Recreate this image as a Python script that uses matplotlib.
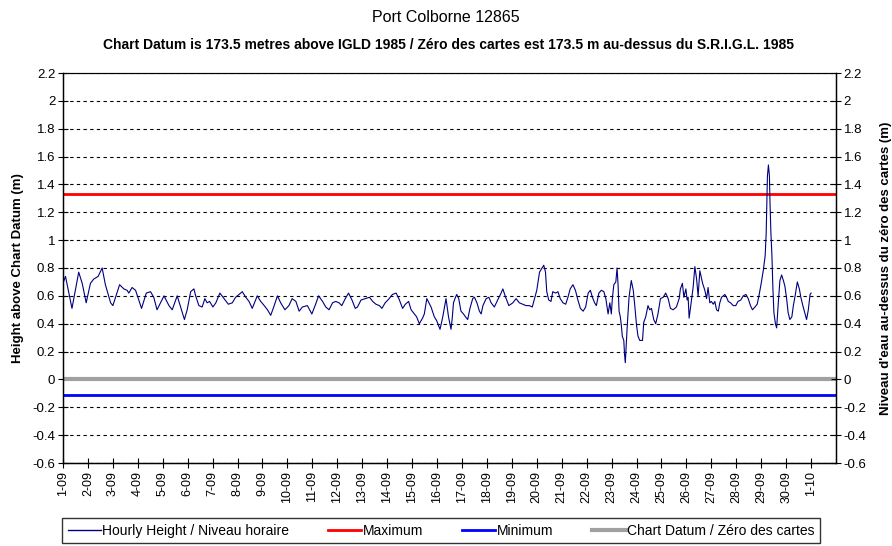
import matplotlib.pyplot as plt
from matplotlib.ticker import FuncFormatter, FixedLocator
from matplotlib.lines import Line2D

plt.rcParams['font.family'] = ['Liberation Sans', 'DejaVu Sans']
plt.rcParams['axes.unicode_minus'] = False

# day labels (1 Sept -> 1 Oct)
day_labels = ['%d-09' % d for d in range(1, 31)] + ['1-10']

# hourly water level, x = days since 1-09 00:00
hourly_days = [
    0.00, 0.10, 0.36, 0.63, 0.77, 0.93, 1.10, 1.23, 1.41, 1.57, 1.70, 1.91, 2.00,
    2.27, 2.44, 2.57, 2.64, 2.77, 2.91, 3.15, 3.34, 3.51, 3.64, 3.77, 4.05, 4.25,
    4.38, 4.58, 4.87, 4.98, 5.12, 5.25, 5.32, 5.45, 5.58, 5.69, 5.78, 5.88, 6.01,
    6.13, 6.29, 6.46, 6.63, 6.79, 6.92, 7.06, 7.19, 7.33, 7.46, 7.59, 7.79, 7.93,
    8.07, 8.20, 8.33, 8.47, 8.60, 8.73, 8.90, 9.06, 9.19, 9.34, 9.47, 9.60, 9.80,
    9.98, 10.11, 10.25, 10.41, 10.54, 10.67, 10.81, 10.94, 11.07, 11.18, 11.32,
    11.45, 11.59, 11.72, 11.81, 11.95, 12.12, 12.29, 12.42, 12.55, 12.69, 12.79,
    12.92, 13.08, 13.21, 13.36, 13.47, 13.62, 13.73, 13.86, 13.96, 14.09, 14.18,
    14.29, 14.42, 14.49, 14.59, 14.76, 14.89, 14.99, 15.12, 15.22, 15.36, 15.46,
    15.56, 15.61, 15.66, 15.74, 15.79, 15.87, 15.96, 16.06, 16.14, 16.23, 16.32,
    16.43, 16.50, 16.60, 16.70, 16.77, 16.84, 16.97, 17.08, 17.17, 17.30, 17.43,
    17.57, 17.64, 17.75, 17.88, 18.04, 18.17, 18.30, 18.44, 18.57, 18.70, 18.82,
    18.91, 19.00, 19.11, 19.21, 19.28, 19.35, 19.40, 19.48, 19.57, 19.64, 19.76,
    19.85, 19.94, 20.05, 20.16, 20.25, 20.34, 20.45, 20.55, 20.65, 20.75, 20.86,
    20.96, 21.06, 21.15, 21.23, 21.32, 21.39, 21.49, 21.59, 21.69, 21.77, 21.86,
    21.93, 21.99, 22.03, 22.09, 22.17, 22.22, 22.26, 22.30, 22.35, 22.39, 22.43,
    22.49, 22.52, 22.55, 22.59, 22.63, 22.70, 22.79, 22.87, 22.93, 23.00, 23.06,
    23.13, 23.24, 23.29, 23.37, 23.46, 23.53, 23.60, 23.69, 23.77, 23.86, 23.96,
    24.07, 24.17, 24.27, 24.36, 24.47, 24.60, 24.71, 24.76, 24.84, 24.90, 24.98,
    25.03, 25.07, 25.11, 25.21, 25.27, 25.34, 25.41, 25.47, 25.54, 25.65, 25.74,
    25.81, 25.87, 25.94, 26.00, 26.08, 26.14, 26.21, 26.28, 26.34, 26.41, 26.48,
    26.54, 26.61, 26.68, 26.77, 26.88, 26.98, 27.07, 27.18, 27.28, 27.39, 27.48,
    27.57, 27.65, 27.75, 27.84, 27.92, 28.01, 28.09, 28.16, 28.20, 28.25, 28.29,
    28.33, 28.35, 28.39, 28.43, 28.47, 28.51, 28.57, 28.62, 28.69, 28.75, 28.82,
    28.89, 28.95, 29.02, 29.08, 29.15, 29.23, 29.29, 29.36, 29.45, 29.53, 29.59,
    29.67, 29.76, 29.82, 29.89, 29.96, 30.00,
]
hourly_height = [
    0.69, 0.74, 0.51, 0.77, 0.69, 0.55, 0.69, 0.72, 0.74, 0.80, 0.68, 0.55, 0.53,
    0.68, 0.65, 0.64, 0.62, 0.66, 0.64, 0.51, 0.62, 0.63, 0.59, 0.50, 0.60, 0.53,
    0.50, 0.60, 0.43, 0.50, 0.63, 0.65, 0.60, 0.53, 0.52, 0.58, 0.55, 0.56, 0.52,
    0.55, 0.62, 0.58, 0.54, 0.55, 0.59, 0.61, 0.63, 0.59, 0.56, 0.51, 0.60, 0.56,
    0.53, 0.50, 0.46, 0.53, 0.60, 0.55, 0.50, 0.53, 0.58, 0.56, 0.49, 0.52, 0.53,
    0.47, 0.53, 0.60, 0.56, 0.52, 0.50, 0.55, 0.56, 0.55, 0.53, 0.58,
    0.62, 0.57, 0.51, 0.52, 0.57, 0.58, 0.59, 0.56, 0.54, 0.53, 0.51,
    0.55, 0.58, 0.61, 0.62, 0.58, 0.51, 0.54, 0.56, 0.50, 0.47, 0.45,
    0.40, 0.44, 0.47, 0.58, 0.52, 0.45, 0.42, 0.36, 0.44, 0.58, 0.45,
    0.36, 0.44, 0.55, 0.59, 0.61, 0.58, 0.49, 0.47, 0.45, 0.43, 0.51,
    0.58, 0.59, 0.55, 0.49, 0.47, 0.53, 0.58, 0.59, 0.55, 0.52, 0.57,
    0.62, 0.65, 0.59, 0.53, 0.55, 0.58, 0.55, 0.54, 0.53, 0.53, 0.52,
    0.58, 0.64, 0.77, 0.80, 0.82, 0.77, 0.63, 0.57, 0.56, 0.63, 0.62,
    0.63, 0.58, 0.55, 0.54, 0.59, 0.65, 0.68, 0.64, 0.57, 0.51, 0.49,
    0.52, 0.62, 0.64, 0.59, 0.55, 0.53, 0.62, 0.64, 0.63, 0.58, 0.47,
    0.55, 0.47, 0.58, 0.68, 0.70, 0.80, 0.68, 0.49, 0.45, 0.39, 0.31,
    0.28, 0.18, 0.12, 0.25, 0.39, 0.59, 0.71, 0.64, 0.53, 0.39, 0.31,
    0.28, 0.28, 0.41, 0.45, 0.53, 0.50, 0.51, 0.43, 0.40, 0.47, 0.58,
    0.59, 0.62, 0.58, 0.51, 0.50, 0.52, 0.58, 0.65, 0.69, 0.59, 0.65,
    0.57, 0.59, 0.44, 0.58, 0.66, 0.81, 0.72, 0.60, 0.78, 0.69, 0.64,
    0.58, 0.66, 0.55, 0.56, 0.54, 0.56, 0.50, 0.49, 0.55, 0.59, 0.60,
    0.61, 0.59, 0.56, 0.55, 0.53, 0.53, 0.56, 0.57, 0.60, 0.61, 0.58,
    0.53, 0.50, 0.52, 0.54, 0.61, 0.70, 0.79, 0.89, 1.05, 1.46, 1.54,
    1.46, 1.29, 1.05, 0.89, 0.65, 0.48, 0.40, 0.37, 0.56, 0.71, 0.75,
    0.71, 0.67, 0.58, 0.48, 0.43, 0.45, 0.53, 0.60, 0.70, 0.65, 0.59,
    0.53, 0.47, 0.43, 0.50, 0.61, 0.62,
]

maximum_level = 1.33
minimum_level = -0.11
chart_datum = 0.0

y_ticks = [-0.6, -0.4, -0.2, 0, 0.2, 0.4, 0.6, 0.8, 1, 1.2, 1.4, 1.6, 1.8, 2, 2.2]

fig = plt.figure(figsize=(8.92, 5.46), dpi=100)
ax = fig.add_axes([63 / 892, 1 - 463 / 546, (836 - 63) / 892, (463 - 73) / 546])

ax.axhline(chart_datum, color='#a0a0a0', lw=3, zorder=2)
ax.axhline(maximum_level, color='#ff0000', lw=2, zorder=2)
ax.axhline(minimum_level, color='#0000ff', lw=2, zorder=2)
ax.plot(hourly_days, hourly_height, color='#000080', lw=0.8, zorder=3)

ax.set_xlim(0, 31)
ax.set_ylim(-0.6, 2.2)
ax.xaxis.set_major_locator(FixedLocator(list(range(len(day_labels)))))
ax.set_xticklabels(day_labels, rotation=90, fontsize=9)
ax.yaxis.set_major_locator(FixedLocator(y_ticks))
fmt = FuncFormatter(lambda v, p: '%g' % round(v, 1))
ax.yaxis.set_major_formatter(fmt)
ax.yaxis.grid(True, linestyle=(0, (3, 3)), color='black', lw=0.8)
ax.set_axisbelow(True)
ax.tick_params(axis='y', direction='inout', length=7, width=0.8, labelsize=9.5, pad=2)
ax.tick_params(axis='x', direction='inout', length=7, width=0.8, labelsize=9, pad=2)
for s in ['left', 'bottom', 'right']:
    ax.spines[s].set_linewidth(1.0)
ax.spines['top'].set_color('#404040')
ax.set_ylabel('Height above Chart Datum (m)', fontsize=9.5, fontweight='bold', labelpad=6)

ax2 = ax.twinx()
ax2.set_ylim(-0.6, 2.2)
ax2.yaxis.set_major_locator(FixedLocator(y_ticks))
ax2.yaxis.set_major_formatter(fmt)
ax2.tick_params(axis='y', direction='inout', length=7, width=0.8, labelsize=9.5, pad=2)
ax2.set_ylabel("Niveau d'eau au-dessus du zéro des cartes (m)", fontsize=9.5,
               fontweight='bold', labelpad=10)

fig.text(0.5, 1 - 18 / 546, 'Port Colborne 12865', ha='center', va='center', fontsize=11.5)
fig.text(0.503, 1 - 45 / 546,
         'Chart Datum is 173.5 metres above IGLD 1985 / Zéro des cartes est 173.5 m au-dessus du S.R.I.G.L. 1985',
         ha='center', va='center', fontsize=10, fontweight='bold')

handles = [
    Line2D([], [], color='#000080', lw=1),
    Line2D([], [], color='#ff0000', lw=2),
    Line2D([], [], color='#0000ff', lw=2),
    Line2D([], [], color='#a0a0a0', lw=3),
]
names = ['Hourly Height / Niveau horaire', 'Maximum', 'Minimum', 'Chart Datum / Zéro des cartes']
leg = fig.legend(handles, names, loc='upper left', ncol=4, mode='expand',
                 bbox_to_anchor=(62 / 892, 1 - 518 / 546 - 0.1, (820 - 62) / 892, 0.1),
                 prop={'size': 10}, frameon=True, fancybox=False,
                 handlelength=2.4, handletextpad=0.1, borderpad=0.4, borderaxespad=0)
leg.get_frame().set_edgecolor('black')
leg.get_frame().set_linewidth(1.0)

fig.savefig('out.png', dpi=100)
